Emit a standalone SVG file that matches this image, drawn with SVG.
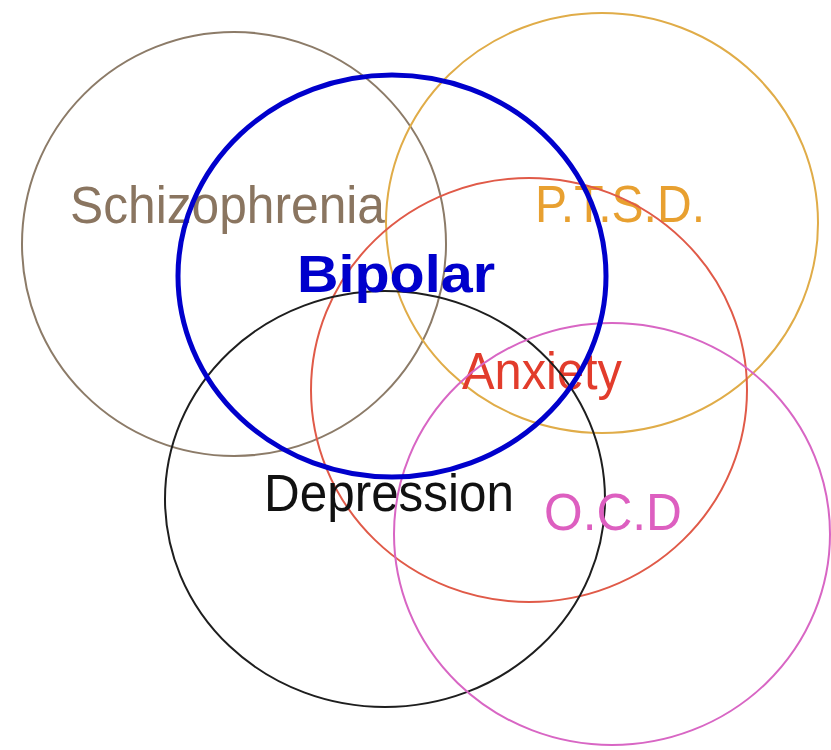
<svg xmlns="http://www.w3.org/2000/svg" width="831" height="750" viewBox="0 0 831 750">
<style>
.c{fill:none;stroke-width:2}
.t{font-family:"Liberation Sans",Arial,sans-serif;font-size:51px}
</style>
<rect width="831" height="750" fill="#ffffff"/>
<g id="schizophrenia">
<ellipse class="c" cx="234" cy="244" rx="212" ry="212" stroke="#8c7b68"/>
<text class="t" x="70" y="223" fill="#8a7560" textLength="315" lengthAdjust="spacingAndGlyphs">Schizophrenia</text>
</g>
<g id="ptsd">
<ellipse class="c" cx="602" cy="223" rx="216" ry="210" stroke="#e0ac48"/>
<text class="t" x="535" y="222" fill="#e8a030" textLength="170" lengthAdjust="spacingAndGlyphs">P.T.S.D.</text>
</g>
<g id="anxiety">
<ellipse class="c" cx="529" cy="390" rx="218" ry="212" stroke="#e05a48"/>
<text class="t" x="462" y="389" fill="#e23c2c" textLength="160" lengthAdjust="spacingAndGlyphs">Anxiety</text>
</g>
<g id="depression">
<ellipse class="c" cx="385" cy="499" rx="220" ry="208" stroke="#1e1e1e"/>
<text class="t" x="264" y="511" fill="#111111" textLength="250" lengthAdjust="spacingAndGlyphs">Depression</text>
</g>
<g id="ocd">
<ellipse class="c" cx="612" cy="534" rx="218" ry="211" stroke="#d866c4"/>
<text class="t" x="544" y="530" fill="#dd5fc0" textLength="138" lengthAdjust="spacingAndGlyphs">O.C.D</text>
</g>
<g id="bipolar">
<ellipse cx="392" cy="276" rx="214" ry="201" fill="none" stroke="#0000cc" stroke-width="5"/>
<text class="t" x="297" y="292" fill="#0000cc" font-weight="bold" font-size="50" textLength="198" lengthAdjust="spacingAndGlyphs">Bipolar</text>
</g>
<g id="connectors"></g>
</svg>
